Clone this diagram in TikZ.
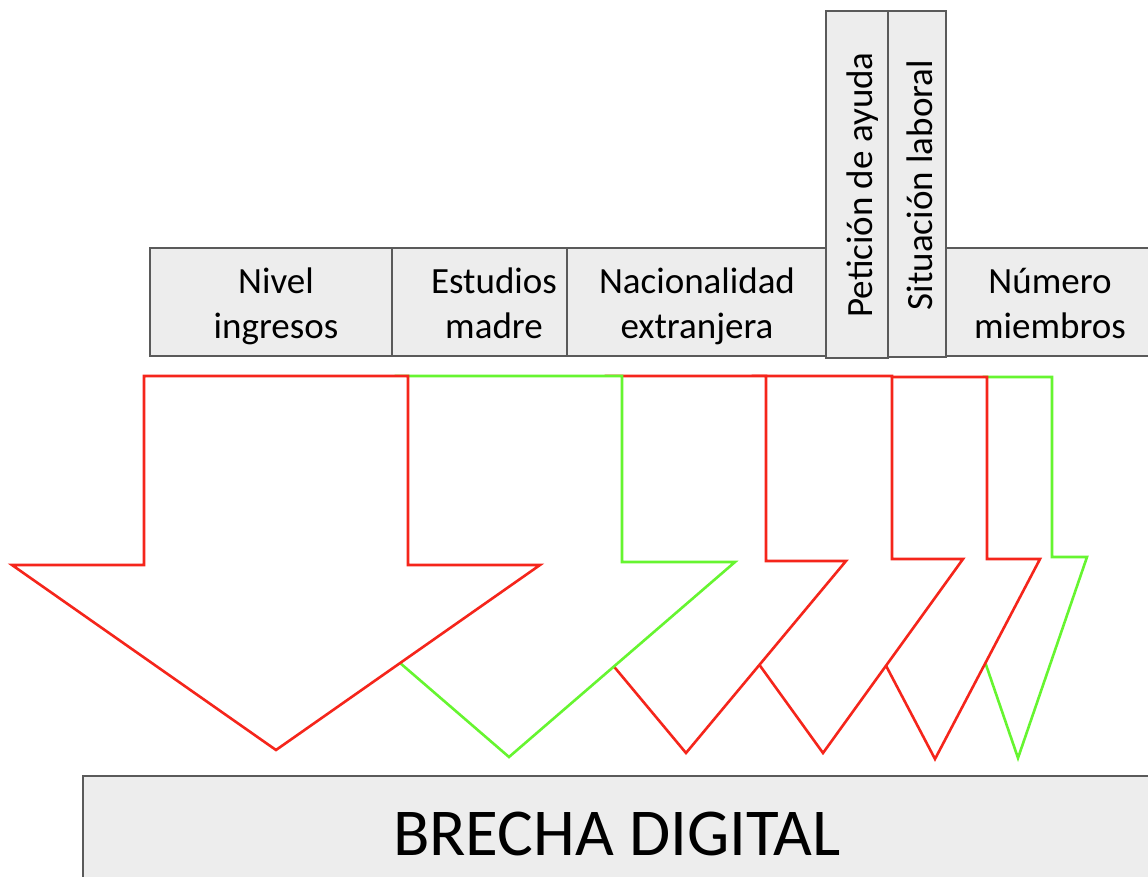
\documentclass[tikz,border=0pt]{standalone}
\usepackage{fontspec}
\setmainfont{Carlito}
\definecolor{boxfill}{HTML}{EDEDED}
\definecolor{boxline}{HTML}{5A5A5A}
\definecolor{arrred}{HTML}{F5251B}
\definecolor{arrgreen}{HTML}{66F530}
\begin{document}
\begin{tikzpicture}[x=1pt,y=-1pt,
  box/.style={draw=boxline, fill=boxfill, line width=2.6pt, inner sep=0pt},
  lbl/.style={font=\fontsize{37}{44}\selectfont, inner sep=0pt, anchor=base},
  vlbl/.style={font=\fontsize{37}{44}\selectfont, inner sep=0pt, anchor=base, rotate=90},
  bigl/.style={font=\fontsize{67}{80}\selectfont, inner sep=0pt, anchor=base},
  redarrow/.style={draw=arrred, fill=white, line width=2.6pt, line join=miter},
  greenarrow/.style={draw=arrgreen, fill=white, line width=2.6pt, line join=miter}]
\useasboundingbox (0,0) rectangle (1148,877);
\clip (0,0) rectangle (1148,877);

% top boxes
\draw[box] (150,248) rectangle (392,356);
\draw[box] (392,248) rectangle (597,356);
\draw[box] (567,248) rectangle (826,356);
\draw[box] (946,248) rectangle (1154,356);
\draw[box] (826,11) rectangle (888,358);
\draw[box] (888,11) rectangle (946,357);

\node[lbl] (nivA) at (276,294) {Nivel};
\node[lbl] (nivB) at (276,338) {ingresos};
\node[lbl] (estA) at (494,294) {Estudios};
\node[lbl] (estB) at (494,338) {madre};
\node[lbl] (nacA) at (697,294) {Nacionalidad};
\node[lbl] (nacB) at (697,338) {extranjera};
\node[lbl] (numA) at (1050,294) {Número};
\node[lbl] (numB) at (1050,338) {miembros};
\node[vlbl] (pet) at (872,185) {Petición de ayuda};
\node[vlbl] (sit) at (932,185) {Situación laboral};

% bottom box
\draw[box] (83,776) rectangle (1151,895);
\node[bigl] (brecha) at (617,855) {BRECHA DIGITAL};

% arrows, drawn from back to front
\draw[greenarrow] (984,377) -- (1052,377) -- (1052,557) -- (1087,557) -- (1018,758) -- (949,557) -- (984,557) -- cycle;
\draw[redarrow] (883,377) -- (987,377) -- (987,559) -- (1040,559) -- (935,759) -- (830,559) -- (883,559) -- cycle;
\draw[redarrow] (753,376) -- (892,376) -- (892,559) -- (963,559) -- (823,753) -- (683,559) -- (753,559) -- cycle;
\draw[redarrow] (606,376) -- (766,376) -- (766,561) -- (846,561) -- (686,753) -- (526,561) -- (606,561) -- cycle;
\draw[greenarrow] (396,376) -- (622,376) -- (622,562) -- (735,562) -- (509,757) -- (283,562) -- (396,562) -- cycle;
\draw[redarrow] (144,376) -- (408,376) -- (408,565) -- (540,565) -- (276,750) -- (12,565) -- (144,565) -- cycle;
\end{tikzpicture}
\end{document}
